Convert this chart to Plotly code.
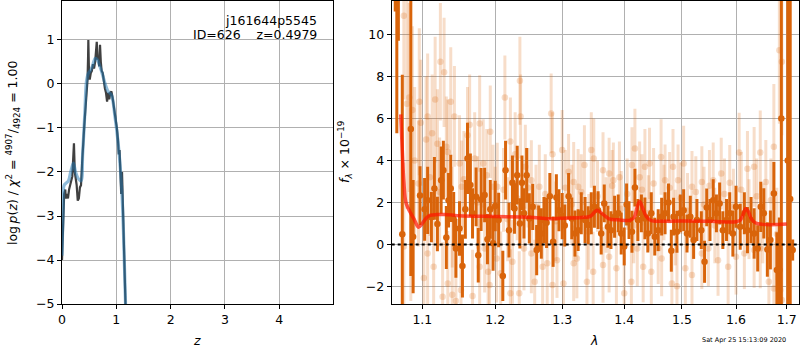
import plotly.graph_objects as go
import math

# ---------------- left panel: p(z) ----------------
z_smooth = [0.0, 0.02, 0.04, 0.08, 0.12, 0.16, 0.21, 0.25, 0.30, 0.35, 0.38, 0.42, 0.45, 0.485,
            0.52, 0.56, 0.61, 0.65, 0.70, 0.75, 0.79, 0.85, 0.91, 0.975, 1.04, 1.10, 1.13, 1.17, 1.2]
logp_smooth = [-3.9, -2.9, -2.3, -2.25, -2.2, -2.0, -1.8, -2.0, -2.15, -2.2, -1.6, -0.67, 0.05, 0.24,
               0.3, 0.4, 0.58, 0.55, 0.39, 0.2, 0.02, -0.17, -0.25, -0.74, -1.42, -2.4, -3.3, -5.0, -6.0]

z_raw = [0.0, 0.02, 0.04, 0.06, 0.07, 0.09, 0.11, 0.13, 0.15, 0.17, 0.19, 0.21, 0.22, 0.235, 0.25,
         0.27, 0.29, 0.31, 0.33, 0.35, 0.37, 0.39, 0.41, 0.43, 0.45, 0.47, 0.48, 0.485, 0.495, 0.51,
         0.53, 0.55, 0.57, 0.59, 0.61, 0.63, 0.64, 0.655, 0.67, 0.685, 0.70, 0.715, 0.73, 0.75, 0.77,
         0.79, 0.81, 0.83, 0.85, 0.87, 0.89, 0.91, 0.93, 0.95, 0.97, 0.99, 1.01, 1.03, 1.045, 1.06,
         1.075, 1.09, 1.105, 1.12, 1.14, 1.17, 1.19]
logp_raw = [-4.0, -3.0, -2.5, -2.4, -2.6, -2.5, -2.6, -2.4, -2.3, -2.2, -2.1, -1.6, -1.35, -2.0, -2.1,
            -2.3, -2.65, -2.6, -2.35, -2.3, -1.8, -1.2, -0.95, -0.6, -0.2, 0.1, 0.6, 1.0, 0.4, 0.1,
            0.25, 0.3, 0.45, 0.35, 0.5, 0.75, 0.96, 0.55, 0.62, 0.4, 0.89, 0.5, 0.3, 0.25, 0.05,
            -0.1, -0.2, -0.4, -0.2, -0.35, -0.2, -0.17, -0.3, -0.45, -0.6, -0.8, -1.0, -1.25, -1.6, -1.5,
            -1.9, -2.5, -2.0, -2.6, -3.5, -5.0, -6.0]

# ---------------- right panel: spectrum ----------------
dark_wave = [1.065, 1.067, 1.069, 1.074, 1.085, 1.088, 1.097, 1.103, 1.107,
             1.112, 1.116, 1.120, 1.125, 1.128, 1.132, 1.135, 1.138, 1.142, 1.145,
             1.150, 1.154, 1.158, 1.161, 1.165, 1.168, 1.173, 1.176, 1.180, 1.185,
             1.189, 1.193, 1.197, 1.200, 1.205, 1.211, 1.215, 1.220, 1.225, 1.228,
             1.232, 1.236, 1.239, 1.242, 1.246, 1.250, 1.255, 1.261, 1.264, 1.268,
             1.272, 1.276, 1.281, 1.286, 1.291, 1.295, 1.300, 1.304, 1.310, 1.315,
             1.320, 1.325, 1.330, 1.336, 1.341, 1.346, 1.351, 1.357, 1.362, 1.367,
             1.373, 1.378, 1.384, 1.390, 1.395, 1.400, 1.404, 1.408, 1.413, 1.418,
             1.423, 1.429, 1.435, 1.440, 1.446, 1.452, 1.458, 1.464, 1.470, 1.476,
             1.481, 1.485, 1.491, 1.497, 1.503, 1.509, 1.515, 1.521, 1.527, 1.535,
             1.541, 1.545, 1.551, 1.557, 1.563, 1.569, 1.575, 1.582, 1.588, 1.594,
             1.600, 1.608, 1.616, 1.622, 1.629, 1.635, 1.642, 1.648, 1.654, 1.661,
             1.667, 1.674, 1.680, 1.685, 1.689, 1.702, 1.707, 1.712]
dark_flux = [18.0, 15.0, 16.0, 0.48, 5.5, 0.37, 2.33, 1.67, 2.1,
             1.3, 2.67, 0.97, 3.06, 3.54, 0.33, 2.1, 2.67, 1.2, -0.19,
             0.76, -1.03, 1.67, 4.1, 2.83, 1.48, 2.27, -0.52, 2.14, 2.35,
             0.25, 1.67, 0.05, 1.83, 1.16, -1.5, 3.54, 0.68, 2.94, 1.71,
             3.3, 1.0, 2.94, 1.48, 3.3, 1.24, 1.79, -0.27, 0.76, 0.52,
             1.16, 1.03, 2.3, 0.13, 2.24, 1.63, 1.35, 0.9, 2.3, 1.24,
             0.52, 0.68, 1.48, 1.16, 0.92, 1.48, 1.79, 1.63, 0.52, 1.95,
             0.84, 0.68, 1.32, 1.48, 0.52, -0.1, 1.9, 1.16, 0.6, 2.71,
             1.16, 1.48, 1.24, 0.52, 1.48, 0.37, 0.68, 1.32, 1.48, 2.0,
             -0.3, 1.32, 0.6, 1.48, 1.63, 0.52, 1.32, 0.21, 1.16, 0.68,
             -0.83, 1.76, 1.16, 2.11, 1.48, 1.95, 0.68, 1.16, 1.48, 0.52,
             1.79, 0.84, 1.48, 0.68, 1.16, 0.52, -0.19, 1.79, 1.48, -0.24,
             0.21, 2.43, -1.22, -1.22, 6.0, 4.0, 2.16, -0.27]
dark_err = [6.9, 9.7, 6.3, 7.6, 7.0, 2.7, 1.4, 1.5, 1.6,
            1.2, 1.5, 1.3, 1.6, 1.4, 1.5, 1.3, 1.6, 1.3, 1.4,
            1.3, 1.5, 1.4, 1.7, 1.5, 1.2, 1.4, 1.3, 1.5, 1.3,
            1.2, 1.4, 1.3, 1.2, 1.3, 1.2, 1.4, 1.3, 1.3, 1.2,
            1.4, 1.2, 1.3, 1.2, 1.3, 1.2, 1.1, 1.2, 1.1, 1.2,
            1.1, 1.2, 1.1, 1.2, 1.1, 1.0, 1.1, 1.0, 1.1, 1.0,
            1.1, 1.0, 1.0, 1.1, 0.9, 1.0, 1.0, 0.9, 1.0, 0.9,
            1.0, 0.9, 1.0, 0.9, 1.0, 0.9, 1.0, 0.9, 1.0, 0.9,
            1.0, 0.9, 1.0, 0.9, 1.0, 0.9, 1.0, 0.9, 1.0, 0.9,
            1.0, 0.9, 1.0, 0.9, 1.0, 0.9, 1.0, 0.9, 1.0, 0.9,
            1.0, 0.9, 1.0, 1.0, 0.9, 1.0, 0.9, 1.0, 1.0, 1.1,
            1.0, 1.1, 1.0, 1.1, 1.1, 1.2, 1.1, 1.2, 1.2, 1.3,
            1.4, 1.5, 1.8, 2.5, 9.0, 12.0, 14.0, 0.5]

light_wave = [1.076, 1.080, 1.083, 1.087, 1.090, 1.096, 1.098, 1.105, 1.107, 1.113,
              1.117, 1.120, 1.124, 1.129, 1.132, 1.134, 1.138, 1.143, 1.150, 1.153,
              1.161, 1.164, 1.171, 1.178, 1.183, 1.193, 1.197, 1.203, 1.214, 1.222,
              1.229, 1.236, 1.237, 1.244, 1.253, 1.265, 1.283, 1.285, 1.300, 1.310,
              1.318, 1.325, 1.335, 1.346, 1.350, 1.365, 1.375, 1.382, 1.392, 1.413,
              1.418, 1.426, 1.435, 1.443, 1.463, 1.470, 1.484, 1.493, 1.503, 1.518,
              1.536, 1.557, 1.572, 1.588, 1.606, 1.622, 1.635, 1.647, 1.658, 1.674,
              1.685, 1.690,
              1.076, 1.085, 1.102, 1.107, 1.115, 1.127, 1.134, 1.140, 1.145, 1.152,
              1.168, 1.178, 1.185, 1.190, 1.192, 1.202, 1.208, 1.222, 1.225, 1.235,
              1.242, 1.253, 1.258, 1.270, 1.277, 1.285, 1.292, 1.302, 1.318, 1.323,
              1.339, 1.349, 1.365, 1.375, 1.387, 1.400, 1.412, 1.422, 1.432, 1.446,
              1.458, 1.464, 1.482, 1.491, 1.506, 1.518, 1.536, 1.548, 1.566, 1.585,
              1.600, 1.616, 1.635, 1.647, 1.664, 1.674, 1.687, 1.690,
              1.095, 1.110, 1.123, 1.140, 1.156, 1.175, 1.188, 1.200, 1.212, 1.218,
              1.232, 1.248, 1.260, 1.274, 1.290, 1.305, 1.315, 1.330, 1.342, 1.356,
              1.370, 1.380, 1.395, 1.405, 1.416, 1.430, 1.441, 1.450, 1.468, 1.478,
              1.488, 1.498, 1.510, 1.525, 1.540, 1.550, 1.560, 1.578, 1.595, 1.610,
              1.625, 1.640, 1.652, 1.668, 1.680]
light_flux = [10.9, 6.7, 7.0, 6.4, 4.0, 6.8, 5.8, 5.0, 6.1, 5.3,
              6.9, 4.8, 8.7, 8.2, 4.65, 4.4, 6.8, 6.1, 3.86, 2.75,
              5.2, 5.7, 4.1, 5.76, 3.86, 5.37, 2.75, 2.75, 7.0, 4.9,
              4.3, 7.8, 6.1, 3.7, 3.06, 2.75, 6.24, 4.3, 4.5, 3.46,
              2.98, 2.75, 3.78, 4.5, 4.1, 3.54, 3.38, 3.06, 3.2, 3.78,
              4.57, 3.2, 3.7, 3.86, 4.17, 3.06, 3.7, 3.06, 3.86, 2.75,
              2.98, 3.06, 3.38, 2.94, 4.38, 3.6, 3.7, 4.38, 2.98, 4.65,
              9.25, 8.7,
              -0.1, 1.8, -1.6, -0.43, -1.06, -2.5, -1.86, -2.4, -2.7, -2.17,
              -2.46, -1.06, -0.19, -1.3, -1.94, -0.67, -1.38, -2.33, -0.83, -2.33,
              -0.19, -0.43, -1.78, -1.06, -0.9, -1.94, -0.75, -1.86, -0.9, -0.67,
              -1.78, -1.3, -0.98, -0.59, -1.14, -2.33, -1.78, -0.19, -1.06, -1.3,
              -0.19, -0.67, -1.86, -2.0, -1.14, -1.46, -0.43, -0.19, -0.75, -1.06,
              -0.59, -0.43, -0.27, -0.19, -1.78, -2.1, -2.17, -2.65,
              2.9, 3.2, 2.5, 1.3, 3.1, 2.0, 3.3, 1.6, 2.6, 1.2,
              2.2, 2.7, 1.8, 2.4, 1.1, 2.7, 1.9, 2.5, 0.6, 2.3,
              1.4, 2.8, 1.7, 2.4, 0.9, 2.6, 1.5, 2.9, 2.0, 2.7,
              0.8, 2.2, 1.6, 2.5, 1.9, 2.8, 0.9, 2.4, 1.8, 2.6,
              1.2, 2.3, 1.0, 2.1, 0.5]
light_err = [4.0, 5.0, 4.5, 4.0, 3.5, 3.5, 3.0, 3.0, 3.0, 2.8,
             3.0, 2.6, 2.8, 2.6, 2.4, 2.5, 2.6, 2.4, 2.3, 2.2,
             2.3, 2.4, 2.2, 2.3, 2.1, 2.2, 2.0, 2.1, 2.0, 2.1,
             2.0, 2.1, 2.0, 2.0, 1.9, 2.0, 1.9, 2.0, 1.9, 1.8,
             1.9, 1.8, 1.9, 1.8, 1.9, 1.8, 1.7, 1.8, 1.7, 1.8,
             1.9, 1.7, 1.8, 1.7, 1.8, 1.7, 1.8, 1.7, 1.8, 1.7,
             1.7, 1.8, 1.7, 1.8, 1.9, 1.8, 1.9, 2.0, 2.0, 3.0,
             3.5, 3.5,
             4.0, 4.5, 3.0, 3.0, 2.8, 2.6, 2.5, 2.4, 2.4, 2.3,
             2.2, 2.3, 2.1, 2.2, 2.0, 2.1, 2.0, 2.1, 2.0, 2.0,
             2.0, 1.9, 2.0, 1.9, 2.0, 1.9, 1.8, 1.9, 1.8, 1.9,
             1.8, 1.9, 1.8, 1.7, 1.8, 1.9, 1.7, 1.8, 1.7, 1.8,
             1.7, 1.8, 1.7, 1.8, 1.7, 1.8, 1.7, 1.8, 1.7, 1.8,
             1.8, 1.7, 1.8, 1.9, 2.0, 2.2, 2.5, 2.5,
             3.0, 2.8, 2.6, 2.4, 2.3, 2.2, 2.2, 2.1, 2.0, 2.0,
             2.0, 1.9, 2.0, 1.9, 1.9, 1.8, 1.9, 1.8, 1.8, 1.7,
             1.8, 1.7, 1.8, 1.7, 1.8, 1.7, 1.8, 1.7, 1.8, 1.7,
             1.8, 1.7, 1.8, 1.7, 1.8, 1.7, 1.8, 1.7, 1.8, 1.8,
             1.9, 1.8, 1.9, 2.0, 2.2]

model_wave = [1.072, 1.074, 1.076, 1.079, 1.085, 1.090, 1.095, 1.100, 1.105, 1.110, 1.120, 1.130,
              1.140, 1.150, 1.200, 1.250, 1.280, 1.300, 1.330, 1.345, 1.350, 1.355, 1.360, 1.367,
              1.375, 1.390, 1.410, 1.417, 1.422, 1.426, 1.431, 1.437, 1.445, 1.500, 1.550, 1.600,
              1.608, 1.614, 1.619, 1.624, 1.630, 1.640, 1.700]
model_flux = [6.2, 4.5, 3.0, 1.95, 1.48, 1.15, 0.82, 1.0, 1.25, 1.38, 1.42, 1.43,
              1.4, 1.36, 1.33, 1.3, 1.22, 1.25, 1.28, 1.35, 1.5, 1.63, 1.55, 1.38,
              1.22, 1.17, 1.15, 1.3, 1.8, 2.05, 1.75, 1.35, 1.15, 1.12, 1.1, 1.08,
              1.15, 1.45, 1.71, 1.55, 1.2, 1.0, 0.97]

x_ticks_left = [0, 1, 2, 3, 4]
y_ticks_left = [-5, -4, -3, -2, -1, 0, 1]
x_ticks_right = [1.1, 1.2, 1.3, 1.4, 1.5, 1.6, 1.7]
y_ticks_right = [-2, 0, 2, 4, 6, 8, 10]

title_obj = "j161644p5545"
title_id = "ID=626\u00a0\u00a0\u00a0\u00a0z=0.4979"
timestamp = "Sat Apr 25 15:13:09 2020"

# ---------------- styling ----------------
FONT = "DejaVu Sans"
dark_col = "rgb(217,100,10)"
light_col = "rgba(217,100,10,0.22)"

def fmt(v):
    s = ("%g" % v)
    return s.replace("-", "\u2212")

fig = go.Figure()

fig.add_trace(go.Scatter(x=z_raw, y=logp_raw, mode="lines", xaxis="x", yaxis="y",
                         line=dict(color="rgba(30,30,30,0.85)", width=2.2), showlegend=False))
fig.add_trace(go.Scatter(x=z_smooth, y=logp_smooth, mode="lines", xaxis="x", yaxis="y",
                         line=dict(color="rgba(31,119,180,0.5)", width=3.2, shape="spline"),
                         showlegend=False))

fig.add_trace(go.Scatter(x=light_wave, y=light_flux, mode="markers", xaxis="x2", yaxis="y2",
                         marker=dict(color=light_col, size=6.5, line=dict(width=0)),
                         error_y=dict(type="data", array=light_err, visible=True,
                                      color=light_col, thickness=3, width=0),
                         showlegend=False))
fig.add_trace(go.Scatter(x=dark_wave, y=dark_flux, mode="markers", xaxis="x2", yaxis="y2",
                         marker=dict(color=dark_col, size=6.5, line=dict(width=0)),
                         error_y=dict(type="data", array=dark_err, visible=True,
                                      color=dark_col, thickness=3, width=0),
                         showlegend=False))
fig.add_trace(go.Scatter(x=model_wave, y=model_flux, mode="lines", xaxis="x2", yaxis="y2",
                         line=dict(color="rgba(255,20,0,0.7)", width=3.5, shape="spline"),
                         showlegend=False))

axis_common = dict(showline=True, mirror=True, linecolor="black", linewidth=1,
                   ticks="outside", ticklen=4, tickwidth=1, tickcolor="black",
                   showgrid=True, gridcolor="#b0b0b0", gridwidth=0.8, zeroline=False,
                   automargin=False,
                   tickfont=dict(family=FONT, size=12.5, color="black"))

ydom = [1 - 304 / 350, 1 - 1 / 350]

fig.update_layout(
    width=800, height=350, margin=dict(l=0, r=0, t=0, b=0, autoexpand=False),
    paper_bgcolor="white", plot_bgcolor="white",
    font=dict(family=FONT, color="black"),
    xaxis=dict(domain=[62 / 800, 333 / 800], range=[0, 4.99], anchor="y",
               tickvals=x_ticks_left, ticktext=[fmt(v) for v in x_ticks_left], **axis_common),
    yaxis=dict(domain=ydom, range=[-5, 1.886], anchor="x",
               tickvals=y_ticks_left, ticktext=[fmt(v) for v in y_ticks_left], **axis_common),
    xaxis2=dict(domain=[391.7 / 800, 799 / 800], type="log",
                range=[math.log10(1.0605), math.log10(1.725)], anchor="y2",
                tickvals=x_ticks_right, ticktext=[fmt(v) for v in x_ticks_right], **axis_common),
    yaxis2=dict(domain=ydom, range=[-2.84, 11.6], anchor="x2",
                tickvals=y_ticks_right, ticktext=[fmt(v) for v in y_ticks_right], **axis_common),
)

fig.add_shape(type="line", xref="x2 domain", yref="y2", x0=0, x1=1, y0=0, y1=0,
              line=dict(color="black", width=2, dash="dot"), layer="above")

ann_font = dict(family=FONT, size=12.5, color="black")
fig.add_annotation(text=title_obj, xref="paper", yref="paper", x=319 / 800, y=1 - 20 / 350,
                   xanchor="right", yanchor="middle", showarrow=False, font=ann_font)
fig.add_annotation(text=title_id, xref="paper", yref="paper", x=319 / 800, y=1 - 34 / 350,
                   xanchor="right", yanchor="middle", showarrow=False, font=ann_font)
fig.add_annotation(text="log\u2009<i>p</i>(<i>z</i>) / <i>χ</i><sup>2</sup> = <sup>4907</sup>/<sub>4924</sub> = 1.00",
                   xref="paper", yref="paper", x=13 / 800, y=1 - 153 / 350, textangle=-90,
                   xanchor="center", yanchor="middle", showarrow=False, font=ann_font)
fig.add_annotation(text="<i>f</i><sub><i>λ</i></sub> × 10<sup>−19</sup>",
                   xref="paper", yref="paper", x=345 / 800, y=1 - 152 / 350, textangle=-90,
                   xanchor="center", yanchor="middle", showarrow=False, font=ann_font)
fig.add_annotation(text="<i>z</i>", xref="paper", yref="paper", x=197 / 800, y=1 - 340 / 350,
                   xanchor="center", yanchor="middle", showarrow=False, font=ann_font)
fig.add_annotation(text="<i>λ</i>", xref="paper", yref="paper", x=594 / 800, y=1 - 340 / 350,
                   xanchor="center", yanchor="middle", showarrow=False, font=ann_font)
fig.add_annotation(text=timestamp, xref="paper", yref="paper", x=788 / 800, y=1 - 340 / 350,
                   xanchor="right", yanchor="middle", showarrow=False,
                   font=dict(family=FONT, size=6.5, color="black"))

fig.write_html("out.html", config={"displayModeBar": False},
               post_script="document.body.style.margin='0';document.body.style.overflow='hidden';")
